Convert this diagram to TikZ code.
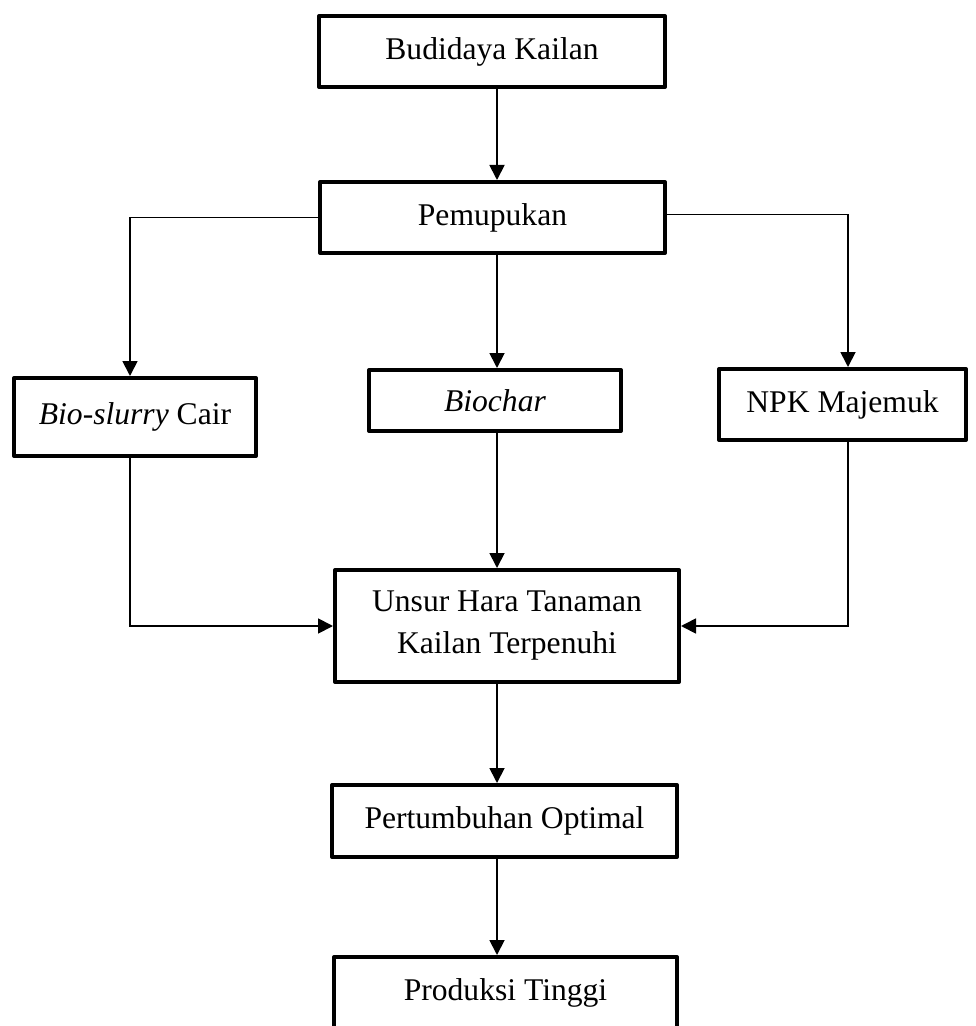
\documentclass[tikz,border=0pt]{standalone}
\usepackage{fontspec}
\setmainfont{Liberation Serif}
\usepackage{tikz}
\usetikzlibrary{positioning,arrows.meta}
\tikzset{
  flowarrow/.style={-{Triangle[length=7.5pt, width=7.5pt]}, line width=0.9pt},
  stagebox/.style={draw, line width=2pt, line join=round, fill=white, minimum width=172.5pt, minimum height=35.5pt, align=center, inner sep=0pt},
  inputbox/.style={draw, line width=2pt, line join=round, fill=white, minimum width=123.5pt, minimum height=35.5pt, align=center, inner sep=0pt}
}

\begin{document}
\begin{tikzpicture}[x=0.5pt, y=-0.5pt, >=Triangle, every node/.style={font=\fontsize{15.8pt}{21pt}\selectfont}]
  \useasboundingbox (0,0) rectangle (975,1026);
  \clip (0,0) rectangle (975,1026);
  \coordinate (spine) at (497,0);
  \node[stagebox, minimum width=173pt] (budidaya) at (492,51.5) {Budidaya Kailan};
  \node[stagebox] (pemupukan) at (492.5,217.5) {Pemupukan};
  \node[inputbox, minimum width=121pt, minimum height=39pt] (bioslurry) at (135,417) {\textit{Bio-slurry} Cair};
  \node[inputbox, minimum width=126pt, minimum height=30.5pt] (biochar) at (495,400.5) {\textit{Biochar}};
  \node[inputbox] (npk) at (842.5,404.5) {NPK Majemuk};
  \node[stagebox, minimum width=172pt, minimum height=56pt] (unsur) at (507,626) {Unsur Hara Tanaman\\Kailan Terpenuhi};
  \node[stagebox, minimum height=36pt] (tumbuh) at (504.5,821) {Pertumbuhan Optimal};
  \node[stagebox, minimum width=171.5pt, minimum height=36pt] (produksi) at (505.5,993) {Produksi Tinggi};
  \draw[flowarrow] (budidaya.south -| spine) -- (pemupukan.north -| spine);
  \draw[flowarrow] (pemupukan.south -| spine) -- (biochar.north -| spine);
  \draw[flowarrow] (pemupukan.west) -| ([xshift=-2.5pt]bioslurry.north);
  \draw[flowarrow] ([yshift=1.5pt]pemupukan.east) -| ([xshift=2.75pt]npk.north);
  \draw[flowarrow] (biochar.south -| spine) -- (unsur.north -| spine);
  \draw[flowarrow] ([xshift=-2.5pt]bioslurry.south) |- (unsur.west);
  \draw[flowarrow] ([xshift=2.75pt]npk.south) |- (unsur.east);
  \draw[flowarrow] (unsur.south -| spine) -- (tumbuh.north -| spine);
  \draw[flowarrow] (tumbuh.south -| spine) -- (produksi.north -| spine);
\end{tikzpicture}
\end{document}
